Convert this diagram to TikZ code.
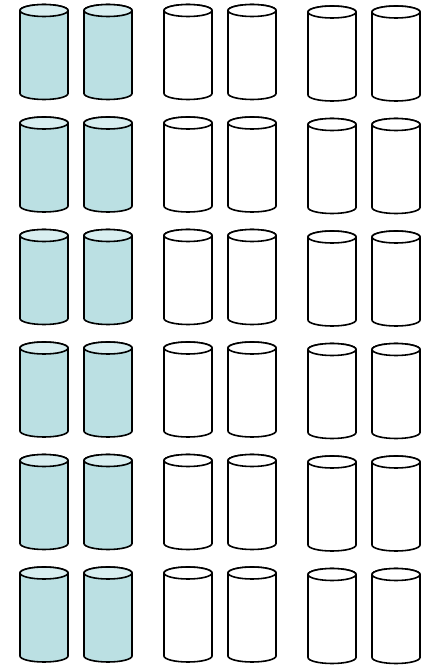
\documentclass[tikz,border=0pt]{standalone}
\usepackage{tikz}
\definecolor{bodyblue}{HTML}{BBE0E3}
\definecolor{topblue}{HTML}{D8EEF0}
\tikzset{
  cylline/.style={draw=black, line width=1.6pt, line join=round},
  pics/cyl/.style 2 args={code={
    \filldraw[cylline, fill=#1] (-24,0) -- (-24,-83)
      arc[start angle=180, end angle=360, x radius=24, y radius=6]
      -- (24,0) arc[start angle=0, end angle=180, x radius=24, y radius=6] -- cycle;
    \filldraw[cylline, fill=#2] (0,0) ellipse[x radius=24, y radius=6];
  }}
}
\begin{document}
\begin{tikzpicture}[x=1pt, y=1pt]
\useasboundingbox (0,0) rectangle (423,665);
\foreach \i in {0,...,5}{
  \pgfmathsetmacro{\ya}{665-10.5-112.5*\i}
  \pgfmathsetmacro{\yb}{665-12-112.5*\i}
  \pic at (44,\ya) {cyl={bodyblue}{topblue}};
  \pic at (108,\ya) {cyl={bodyblue}{topblue}};
  \pic at (188,\ya) {cyl={white}{white}};
  \pic at (252,\ya) {cyl={white}{white}};
  \pic at (332,\yb) {cyl={white}{white}};
  \pic at (396,\yb) {cyl={white}{white}};
}
\end{tikzpicture}
\end{document}
